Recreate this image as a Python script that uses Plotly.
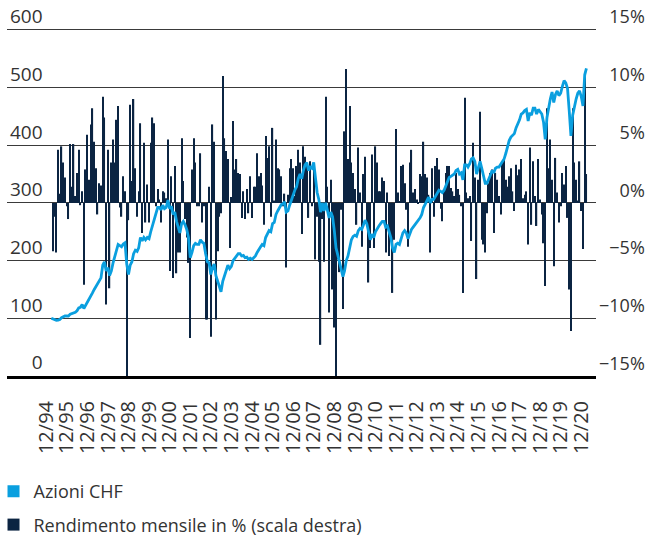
import plotly.graph_objects as go
import pandas as pd

# Monthly return of Swiss equities in % (right scale); first month has no return
monthly_return = [
    None, -4.2, -1.2, -4.3, 4.6, 0.8, 4.9, 3.5, 2.2, -0.3, -1.4, 5.1,
    1.4, 5.1, 0.6, 2.6, 4.6, -0.2, 1.0, -7.1, 2.9, 5.9, 2.0, 6.8,
    8.2, 5.3, 3.0, -1.0, 1.7, 1.5, 9.2, 7.4, -8.8, 4.6, -7.4, 3.5,
    5.5, 3.5, 7.2, 8.4, -0.4, -1.2, 2.3, 1.0, -15.0, -1.5, 8.5, 1.9,
    9.0, 3.0, -1.2, 1.0, 6.9, -2.6, 5.2, -1.7, 1.6, -1.7, 5.2, 7.4,
    6.9, -0.3, 1.2, 0.3, -1.7, 1.0, 0.9, 0.4, 5.5, -5.9, 2.3, -6.5,
    3.2, -6.1, -4.3, -4.3, 5.6, 1.9, -1.4, -3.0, -5.2, -11.7, 2.9, 5.6,
    3.5, -0.3, -0.3, 4.3, -1.7, -0.3, -10.1, -10.1, 1.4, -11.6, 6.8, 5.3,
    -10.1, -4.2, -1.2, -0.9, 11.0, 5.6, 4.5, 3.8, -3.9, 0.5, 7.1, 2.9,
    3.8, 2.6, 2.5, -1.3, 1.0, -1.4, 1.2, -0.9, 2.3, -1.3, 1.4, 1.4,
    4.3, 2.3, 2.6, 1.5, -1.9, 5.8, 3.9, 4.9, -1.2, 6.5, 0.2, 5.5,
    3.0, 2.9, 2.3, -0.3, 0.8, -5.6, 0.7, 3.0, 3.8, 3.0, 0.6, 3.2,
    4.6, 3.5, -2.7, 4.9, 4.0, 3.2, -1.3, 3.6, -0.3, 3.2, -4.9, -1.2,
    -5.1, -12.3, -1.4, -5.1, 9.2, 1.4, -9.5, 2.0, -7.5, -10.8, -15.0, -4.9,
    -6.0, -0.6, -9.2, 6.2, 11.6, 3.8, 8.4, 3.5, 2.6, 1.2, -1.9, 4.8,
    0.9, -3.8, 2.5, 4.0, -1.9, -6.9, -3.9, 4.2, -3.9, 4.9, 3.5, 1.0,
    1.0, 2.2, 1.9, -4.3, 0.9, -4.6, -2.6, -7.8, -3.2, 6.4, 0.9, 0.1,
    3.2, 3.3, 1.7, -0.6, -3.8, 3.5, 4.6, 0.9, 1.2, 0.3, -0.1, 2.5,
    2.3, 5.3, 2.5, 2.2, 0.7, -4.3, 3.0, -1.2, 3.2, 3.9, 2.9, -0.5,
    -1.6, 1.2, 2.6, 3.2, 3.2, 1.3, 1.0, 0.6, 2.6, 1.2, 0.7, -0.3,
    -7.8, 9.1, 0.9, 0.4, 0.6, -3.3, 5.2, 2.2, -6.6, 2.0, 7.9, -3.2,
    -3.6, -4.3, -0.9, 1.7, 2.6, 2.9, -2.6, 2.6, 2.0, 0.6, -1.0, 3.5,
    3.9, 2.0, 1.4, 2.3, 3.0, 1.0, -0.7, 3.3, 2.4, 2.9, 3.8, 0.4,
    0.7, 1.0, -3.6, 4.8, -1.9, 3.6, 0.6, -2.0, 3.8, 0.3, -1.0, -3.5,
    -7.2, 8.2, 3.0, 5.5, 2.0, -5.5, 3.9, 0.9, -1.7, -0.3, 2.6, 1.6,
    3.2, -1.3, -7.5, -11.1, 8.2, 3.5, 2.0, 0.2, 3.6, -0.7, -4.0, 11.1,
    2.5,
]

# Index level of Swiss equities (left scale), 12/94 = 100
index_level = [
    100, 98.5, 98, 96.5, 97, 98, 101, 102.5, 104, 104, 104, 107,
    108, 110, 110.5, 113, 118, 119, 124, 117, 122, 128, 132, 138,
    144, 150, 155, 158, 164, 170, 192, 198, 182, 188, 174, 182,
    196, 206, 220, 228, 226, 224, 229, 231, 194, 176, 192, 198,
    212, 218, 216, 222, 240, 234, 240, 236, 240, 238, 250, 260,
    272, 282, 292, 292, 288, 296, 290, 292, 305, 290, 294, 280,
    284, 268, 258, 248, 264, 268, 262, 254, 240, 205, 214, 226,
    230, 228, 228, 236, 232, 230, 212, 198, 196, 176, 188, 194,
    174, 164, 156, 146, 164, 174, 184, 192, 186, 190, 200, 204,
    210, 212, 212, 208, 209, 205, 206, 202, 204, 202, 205, 208,
    214, 218, 224, 228, 226, 240, 246, 252, 250, 264, 266, 280,
    286, 292, 297, 298, 302, 284, 286, 296, 306, 316, 322, 328,
    342, 350, 342, 356, 366, 370, 356, 362, 360, 370, 346, 318,
    306, 284, 300, 286, 300, 284, 274, 284, 276, 252, 222, 210,
    198, 186, 172, 182, 200, 208, 222, 236, 242, 244, 242, 252,
    256, 254, 262, 270, 264, 248, 236, 246, 240, 250, 256, 260,
    264, 268, 268, 258, 260, 248, 240, 222, 214, 228, 230, 228,
    240, 248, 252, 248, 238, 246, 254, 258, 262, 266, 270, 274,
    280, 292, 298, 304, 310, 300, 306, 306, 312, 316, 322, 320,
    318, 322, 330, 336, 344, 346, 348, 350, 356, 358, 350, 352,
    340, 366, 366, 362, 368, 376, 378, 372, 350, 360, 372, 360,
    348, 334, 334, 340, 348, 356, 352, 360, 362, 362, 366, 370,
    376, 386, 400, 408, 414, 418, 420, 430, 436, 444, 454, 456,
    460, 462, 442, 456, 452, 464, 464, 454, 462, 458, 454, 440,
    410, 448, 468, 480, 492, 474, 488, 494, 486, 490, 502, 512,
    508, 498, 458, 416, 452, 468, 480, 490, 494, 484, 468, 522,
    533,
]

year_labels = ["12/94", "12/95", "12/96", "12/97", "12/98", "12/99", "12/00",
               "12/01", "12/02", "12/03", "12/04", "12/05", "12/06", "12/07",
               "12/08", "12/09", "12/10", "12/11", "12/12", "12/13", "12/14",
               "12/15", "12/16", "12/17", "12/18", "12/19", "12/20"]

level_ticks = [0, 100, 200, 300, 400, 500, 600]
level_labels = ["\u2007\u20070", "100", "200", "300", "400", "500", "600"]
pct_ticks = [-15, -10, -5, 0, 5, 10, 15]
pct_labels = ["\u221215%", "\u221210%", "\u2007\u22125%", "\u2007\u20070%",
              "\u2007\u20075%", "\u200710%", "\u200715%"]

NAVY = "#0b2442"
CYAN = "#0a9fdf"
TXT = "#333333"
FONT = "Open Sans"

dates = pd.date_range("1994-12-01", periods=len(index_level), freq="MS") + pd.Timedelta(days=14)
tick_dates = list(dates[::12])

fig = go.Figure()
fig.add_trace(go.Bar(
    x=dates, y=monthly_return, yaxis="y",
    marker=dict(color=NAVY, line=dict(width=0)),
    width=22 * 86400000,
    name="Rendimento mensile in % (scala destra)",
    legendgroup="b", legendrank=2,
))
fig.add_trace(go.Scatter(
    x=dates, y=index_level, yaxis="y2", mode="lines",
    line=dict(color=CYAN, width=2.8),
    name="Azioni CHF", showlegend=False,
))
fig.add_trace(go.Bar(
    x=[None], y=[None], yaxis="y2",
    marker=dict(color=CYAN, line=dict(width=0)),
    name="Azioni CHF", legendgroup="a", legendrank=1,
))

x_left = dates[0] - pd.Timedelta(days=786)
x_right = dates[-1] + pd.Timedelta(days=170)

fig.update_layout(
    width=651, height=537,
    margin=dict(l=7, r=55, t=9, b=161, autoexpand=False),
    paper_bgcolor="white", plot_bgcolor="white",
    font=dict(family=FONT, size=18, color=TXT),
    barmode="overlay",
    showlegend=True,
    legend=dict(x=-0.0229, y=-0.2643, xanchor="left", yanchor="top",
                orientation="v", font=dict(family=FONT, size=18, color=TXT),
                tracegroupgap=7, traceorder="grouped",
                bgcolor="rgba(0,0,0,0)"),
    xaxis=dict(type="date", range=[x_left, x_right], automargin=False,
               tickmode="array", tickvals=tick_dates, ticktext=year_labels,
               tickangle=-90, showgrid=False, zeroline=False,
               showline=True, linecolor="black", linewidth=3,
               ticks="", ticklen=0, ticklabelstandoff=14, ticklabelshift=-5,
               tickfont=dict(family=FONT, size=20, color=TXT)),
    yaxis=dict(side="right", range=[-15, 16.8], automargin=False,
               tickmode="array", tickvals=pct_ticks, ticktext=pct_labels,
               showgrid=True, gridcolor="#3a3a3a", gridwidth=1,
               zeroline=False, ticks="", ticklen=0,
               ticklabelposition="outside top", ticklabeloverflow="allow",
               ticklabelstandoff=2,
               tickfont=dict(family=FONT, size=18, color=TXT)),
    yaxis2=dict(overlaying="y", side="left", range=[0, 636], automargin=False,
                tickmode="array", tickvals=level_ticks, ticktext=level_labels,
                showgrid=False, zeroline=False, ticks="", ticklen=0,
                ticklabelposition="inside top", ticklabeloverflow="allow",
                tickfont=dict(family=FONT, size=19, color=TXT)),
)

fig.write_html("out.html", config={"displayModeBar": False},
               post_script="document.body.style.margin='0px';")
